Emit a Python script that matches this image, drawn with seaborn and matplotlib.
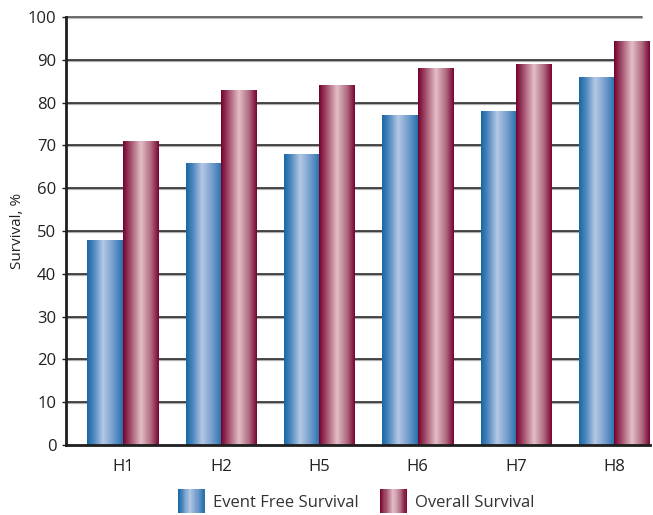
import numpy as np
import pandas as pd
import matplotlib
matplotlib.use("Agg")
import matplotlib.pyplot as plt
import seaborn as sns
from matplotlib.colors import LinearSegmentedColormap
from matplotlib.patches import Rectangle
from matplotlib.legend_handler import HandlerBase

groups = ["H1", "H2", "H5", "H6", "H7", "H8"]
event_free = [48, 66, 68, 77, 78, 86]
overall = [71, 83, 84, 88, 89, 94.5]
series = ["Event Free Survival", "Overall Survival"]
yticks = list(range(0, 101, 10))

df = pd.DataFrame({
    "group": groups * 2,
    "value": event_free + overall,
    "series": [series[0]] * len(groups) + [series[1]] * len(groups),
})

# horizontal "cylinder" shading for each series
blue_cmap = LinearSegmentedColormap.from_list(
    "efs", [(0.0, "#1767a4"), (0.18, "#4a85be"), (0.45, "#b4c8e4"),
            (0.75, "#6f9acb"), (1.0, "#2470ac")])
red_cmap = LinearSegmentedColormap.from_list(
    "os", [(0.0, "#74002e"), (0.2, "#a04a68"), (0.5, "#e3bfc7"),
           (0.78, "#b06a80"), (1.0, "#780333")])
cmaps = {series[0]: blue_cmap, series[1]: red_cmap}

sns.set_style("white")
plt.rcParams["font.family"] = ["Open Sans", "DejaVu Sans"]

fig = plt.figure(figsize=(6.53, 5.15), dpi=100)
ax = fig.add_axes([66 / 653, 1 - 445 / 515, (650 - 66) / 653, (445 - 17) / 515])

sns.barplot(data=df, x="group", y="value", hue="series", order=groups,
            hue_order=series, width=0.72, dodge=True, ax=ax,
            palette=["#5b8cc0", "#a03a5c"], legend=False, zorder=3,
            saturation=1)

grad = np.linspace(0, 1, 256).reshape(1, -1)
bars = [p for p in ax.patches if isinstance(p, Rectangle) and p.get_height() > 0]
n = len(groups)
for i, p in enumerate(bars):
    s = series[0] if i < n else series[1]
    x0, w, h = p.get_x(), p.get_width(), p.get_height()
    im = ax.imshow(grad, cmap=cmaps[s], aspect="auto",
                   extent=(x0, x0 + w, 0, h), zorder=3, interpolation="bilinear")
    im.set_clip_path(p)
    p.set_facecolor("none")
    p.set_edgecolor("none")

ax.set_xlim(-0.577, 5.364)
ax.set_ylim(0, 100)
ax.set_yticks(yticks)

# gridlines drawn as a dark line with a soft grey shadow below
for t in yticks[1:-1]:
    ax.axhline(t - 0.25, color="#b0b0b0", lw=1.6, zorder=1)
    ax.axhline(t, color="#2e2e2e", lw=1.2, zorder=2)
ax.axhline(100 - 0.25, xmax=0.986, color="#c0c0c0", lw=1.6, zorder=1, clip_on=False)
ax.axhline(100, xmax=0.986, color="#555555", lw=1.2, zorder=2, clip_on=False)

for side in ["top", "right"]:
    ax.spines[side].set_visible(False)
for side in ["left", "bottom"]:
    ax.spines[side].set_color("#1e1e1e")
    ax.spines[side].set_linewidth(2.0)
    ax.spines[side].set_zorder(4)

ax.tick_params(axis="y", length=3, width=1, color="#1e1e1e", pad=4,
               labelsize=12, labelcolor="#222222", left=True)
ax.tick_params(axis="x", length=0, pad=10, labelsize=12, labelcolor="#222222")
ax.set_xlabel("")
ax.set_ylabel("Survival, %", fontsize=11, color="#222222", labelpad=2)


class GradientHandler(HandlerBase):
    def __init__(self, cmap):
        super().__init__()
        self.cmap = cmap

    def create_artists(self, legend, orig_handle, xdescent, ydescent,
                       width, height, fontsize, trans):
        k = 24
        arts = []
        for j in range(k):
            c = self.cmap((j + 0.5) / k)
            r = Rectangle((-xdescent + width * j / k, -ydescent - 3),
                          width / k + 0.3, height + 6, facecolor=c,
                          edgecolor="none", transform=trans)
            arts.append(r)
        return arts


h1 = Rectangle((0, 0), 1, 1)
h2 = Rectangle((0, 0), 1, 1)
fig.legend([h1, h2], series, loc="center", bbox_to_anchor=(356 / 653, 1 - 502 / 515),
           ncol=2, frameon=False, fontsize=12, handlelength=1.6,
           handleheight=1.0, handletextpad=0.5, columnspacing=1.3,
           labelcolor="#333333",
           handler_map={h1: GradientHandler(blue_cmap), h2: GradientHandler(red_cmap)})

fig.savefig("out.png", dpi=100)
